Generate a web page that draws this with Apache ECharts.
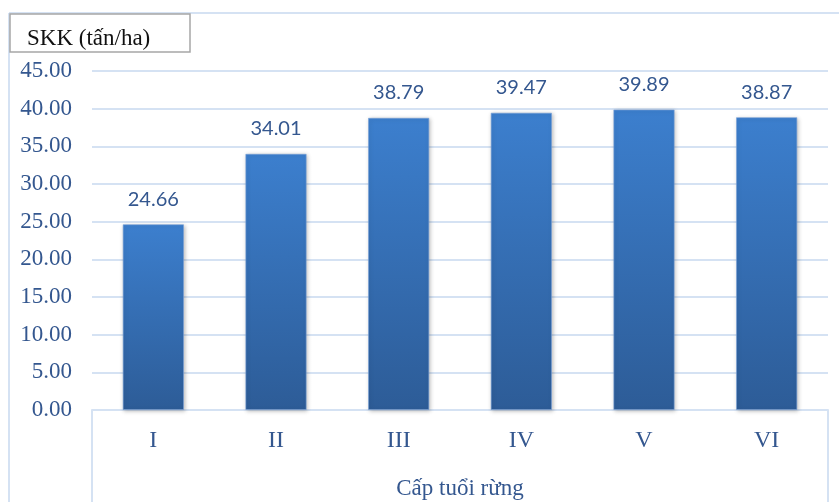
<!DOCTYPE html>
<html>
<head>
<meta charset="utf-8">
<script src="https://cdn.jsdelivr.net/npm/echarts@6/dist/echarts.min.js"></script>
<style>
  html, body { margin: 0; padding: 0; background: #ffffff; }
  #chart { width: 839px; height: 502px; }
</style>
</head>
<body>
<div id="chart"></div>
<script>
// Forest age classes and standing biomass (tonnes per hectare)
const categories = ['I', 'II', 'III', 'IV', 'V', 'VI'];
const biomass = [24.66, 34.01, 38.79, 39.47, 39.89, 38.87];
const yAxisTitle = 'SKK (tấn/ha)';
const xAxisTitle = 'Cấp tuổi rừng';

const serif = '"Liberation Serif", "Times New Roman", serif';
const textBlue = '#34578f';
const lineBlue = '#d5e2f3';

const chart = echarts.init(document.getElementById('chart'), null, { renderer: 'canvas' });

chart.setOption({
  backgroundColor: '#ffffff',
  animation: false,
  grid: { left: 92, right: 11, top: 71, bottom: 92, outerBoundsMode: 'none', containLabel: false },
  xAxis: {
    type: 'category',
    data: categories,
    name: xAxisTitle,
    nameLocation: 'middle',
    nameGap: 67,
    nameMoveOverlap: false,
    nameTextStyle: { fontFamily: serif, fontSize: 23, color: textBlue },
    axisLine: { show: true, lineStyle: { color: lineBlue, width: 2 } },
    axisTick: { show: false },
    axisLabel: { fontFamily: serif, fontSize: 24, color: textBlue, margin: 19 }
  },
  yAxis: {
    type: 'value',
    min: 0,
    max: 45,
    interval: 5,
    axisLine: { show: false },
    axisTick: { show: false },
    splitLine: { lineStyle: { color: lineBlue, width: 2 } },
    axisLabel: {
      fontFamily: serif, fontSize: 23, color: textBlue, margin: 20,
      formatter: v => v.toFixed(2)
    }
  },
  series: [{
    type: 'bar',
    data: biomass,
    barWidth: '50%',
    itemStyle: {
      color: new echarts.graphic.LinearGradient(0, 0, 0, 1, [
        { offset: 0, color: '#3c7fce' },
        { offset: 1, color: '#2d5c97' }
      ]),
      borderColor: 'rgba(120,160,215,0.6)',
      borderWidth: 1,
      shadowBlur: 4,
      shadowColor: 'rgba(0,0,0,0.25)',
      shadowOffsetX: 1,
      shadowOffsetY: 1
    },
    label: {
      show: true,
      position: 'top',
      distance: 15,
      fontFamily: 'Lato',
      fontSize: 20,
      color: textBlue,
      formatter: p => p.value.toFixed(2)
    }
  }],
  graphic: [
    // outer frame (left and top edges)
    { type: 'line', shape: { x1: 9, y1: 13, x2: 9, y2: 502 },
      style: { stroke: lineBlue, lineWidth: 2 }, silent: true },
    { type: 'line', shape: { x1: 9, y1: 13, x2: 839, y2: 13 },
      style: { stroke: lineBlue, lineWidth: 2 }, silent: true },
    // category table sides under the axis
    { type: 'line', shape: { x1: 92, y1: 410, x2: 92, y2: 502 },
      style: { stroke: lineBlue, lineWidth: 2 }, silent: true },
    { type: 'line', shape: { x1: 828, y1: 410, x2: 828, y2: 502 },
      style: { stroke: lineBlue, lineWidth: 2 }, silent: true },
    // unit box
    { type: 'rect', shape: { x: 10, y: 14, width: 180, height: 38 },
      style: { fill: '#ffffff', stroke: '#a6a6a6', lineWidth: 1.5 }, silent: true },
    { type: 'text', x: 27, y: 39,
      style: { text: yAxisTitle, fontFamily: serif, fontSize: 23, fill: '#111111',
               verticalAlign: 'middle', align: 'left' }, silent: true }
  ]
});
</script>
</body>
</html>
